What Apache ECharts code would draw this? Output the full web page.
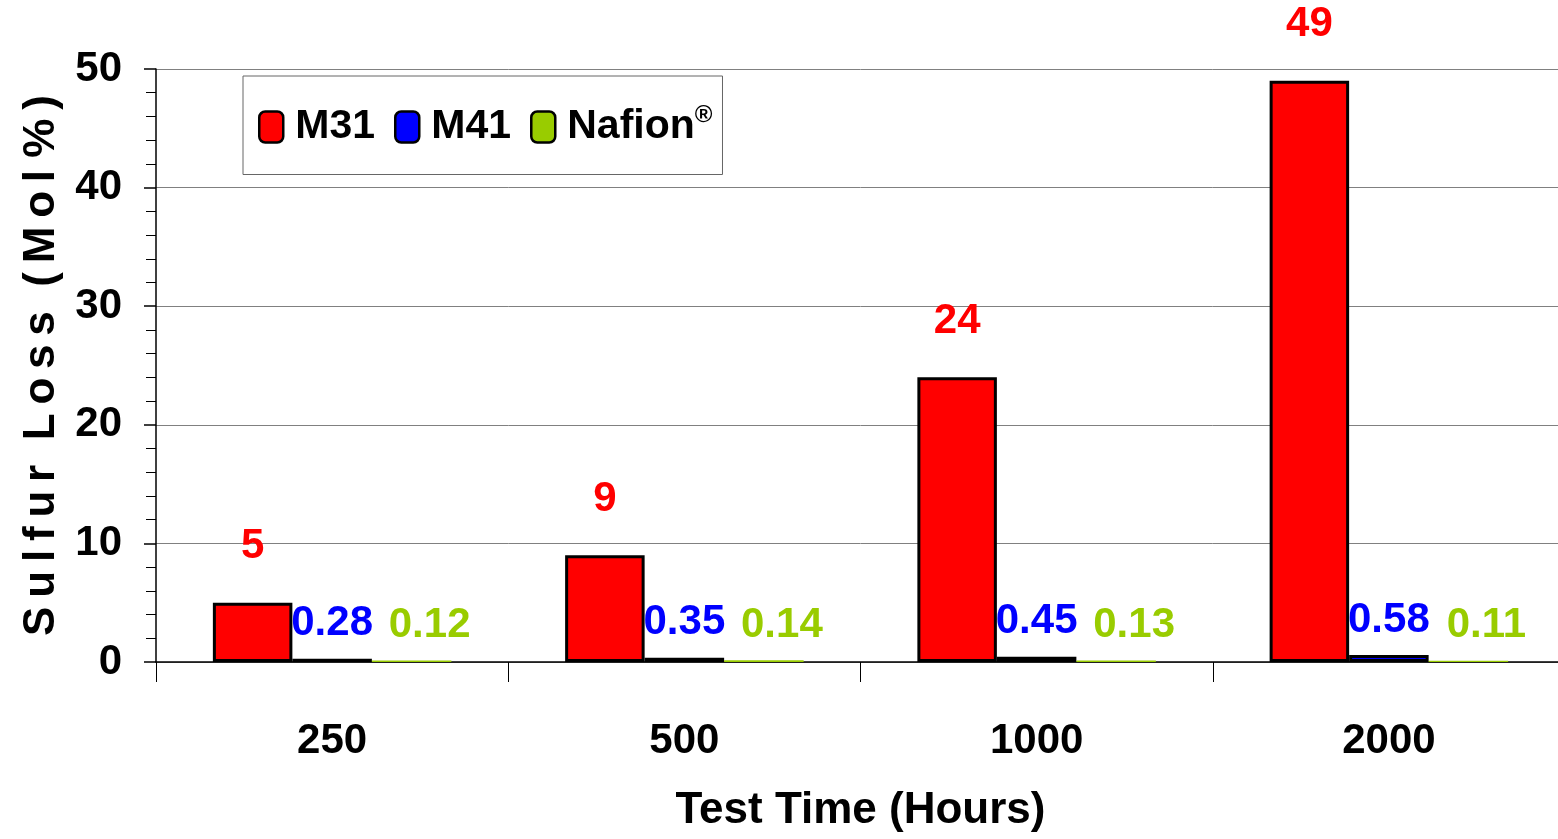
<!DOCTYPE html>
<html>
<head>
<meta charset="utf-8">
<script src="https://cdn.jsdelivr.net/npm/echarts@6/dist/echarts.min.js"></script>
<style>
html,body{margin:0;padding:0;background:#fff;overflow:hidden;width:1558px;height:839px;}
#chart{width:1565px;height:839px;}
</style>
</head>
<body>
<div id="chart"></div>
<script>
var categories = ['250', '500', '1000', '2000'];
var seriesNames = ['M31', 'M41', 'Nafion'];
var m31 = [5, 9, 24, 49];
var m41 = [0.28, 0.35, 0.45, 0.58];
var nafion = [0.12, 0.14, 0.13, 0.11];
var yTicks = [0, 10, 20, 30, 40, 50];

var FONT = '"Liberation Sans", Arial, sans-serif';
var H = '\u2009';
var yTitle = ['S','u','l','f','u','r'].join(H) + '  ' + ['L','o','s','s'].join(H) + '  ' + ['(','M','o','l'].join(H) + ' ' + ['%', ')'].join(H);

var chart = echarts.init(document.getElementById('chart'), null, {renderer: 'canvas'});

function barSeries(name, data, color, border, labelColor, dist, offset) {
  return {
    name: name,
    type: 'bar',
    data: data,
    barWidth: 79.5,
    barGap: '0%',
    itemStyle: {color: color, borderColor: '#000', borderWidth: border},
    label: {
      show: true,
      position: 'top',
      distance: dist,
      offset: offset,
      color: labelColor,
      fontFamily: FONT,
      fontWeight: 'bold',
      fontSize: 42
    }
  };
}

chart.setOption({
  animation: false,
  backgroundColor: '#fff',
  grid: {left: 156, top: 69, bottom: 177, right: 0, containLabel: false},
  legend: {
    left: 243,
    top: 76,
    orient: 'horizontal',
    backgroundColor: '#fff',
    borderColor: '#666',
    borderWidth: 1,
    padding: [27, 10, 27, 15],
    itemGap: 19,
    itemWidth: 24,
    itemHeight: 31,
    itemStyle: {borderColor: '#000', borderWidth: 2.5},
    data: seriesNames.map(function (n) { return {name: n, icon: 'roundRect'}; }),
    textStyle: {
      fontFamily: FONT,
      fontWeight: 'bold',
      fontSize: 41,
      color: '#000',
      padding: [0, 0, 0, 7],
      rich: {
        r: {fontFamily: FONT, fontSize: 24, fontWeight: 'bold', color: '#000', verticalAlign: 'top', padding: [0, 0, 24, 0]}
      }
    },
    formatter: function (n) { return n === 'Nafion' ? 'Nafion{r|®}' : n; }
  },
  xAxis: {
    type: 'category',
    data: categories,
    name: 'Test Time (Hours)',
    nameLocation: 'middle',
    nameGap: 127,
    nameTextStyle: {fontFamily: FONT, fontWeight: 'bold', fontSize: 44, color: '#000'},
    axisLine: {show: true, lineStyle: {color: '#000', width: 1.5}},
    axisTick: {show: true, length: 20, lineStyle: {color: '#000', width: 1}},
    axisLabel: {margin: 58, fontFamily: FONT, fontWeight: 'bold', fontSize: 42, color: '#000'},
    splitLine: {show: false}
  },
  yAxis: {
    type: 'value',
    min: yTicks[0],
    max: yTicks[yTicks.length - 1],
    interval: 10,
    name: yTitle,
    nameLocation: 'middle',
    nameGap: 92,
    nameRotate: 90,
    nameTextStyle: {fontFamily: FONT, fontWeight: 'bold', fontSize: 44, color: '#000'},
    axisLine: {show: true, lineStyle: {color: '#000', width: 1.5}},
    axisTick: {show: true, length: 12, lineStyle: {color: '#000', width: 1.5}},
    minorTick: {show: true, splitNumber: 5, length: 10, lineStyle: {color: '#000', width: 1}},
    axisLabel: {margin: 34, fontFamily: FONT, fontWeight: 'bold', fontSize: 42, color: '#000'},
    splitLine: {show: true, lineStyle: {color: '#808080', width: 1}}
  },
  series: [
    barSeries('M31', m31, '#ff0000', 3, '#ff0000', 35, [0, 0]),
    barSeries('M41', m41, '#0000ff', 3, '#0000ff', 14, [0, 0]),
    barSeries('Nafion', nafion, '#99cc00', 0, '#99cc00', 14, [18, 0])
  ]
});
</script>
</body>
</html>
